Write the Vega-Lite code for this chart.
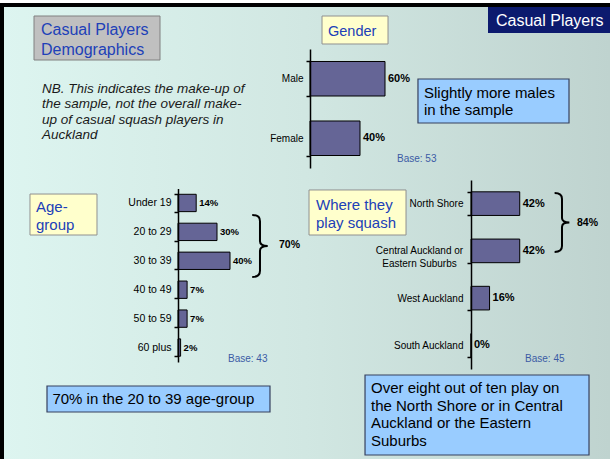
{
  "$schema": "https://vega.github.io/schema/vega-lite/v6.json",
  "width": 610,
  "height": 459,
  "autosize": {"type": "none"},
  "padding": 0,
  "background": "white",
  "config": {"view": {"stroke": null}},
  "resolve": {"scale": {"x": "independent", "y": "independent"}, "axis": {"x": "independent", "y": "independent"}},
  "layer": [
    {
      "data": {"values": [{"k": "slide"}]},
      "layer": [
        {
          "mark": {"type": "rect", "fill": {"gradient": "linear", "x1": 0, "y1": 0, "x2": 1, "y2": 0, "stops": [{"offset": 0, "color": "#ddf5f0"}, {"offset": 0.5, "color": "#d1e7e2"}, {"offset": 1, "color": "#bfd3cf"}]}},
          "encoding": {
            "x": {"datum": 0, "type": "quantitative", "scale": {"domain": [0, 100], "range": [0, 610]}, "axis": null},
            "x2": {"datum": 100},
            "y": {"datum": 1.525, "type": "quantitative", "scale": {"domain": [0, 100], "range": [0, 459]}, "axis": null},
            "y2": {"datum": 100}
          }
        },
        {
          "mark": {"type": "rect", "fill": "black"},
          "encoding": {
            "x": {"datum": 0, "type": "quantitative"},
            "x2": {"datum": 100},
            "y": {"datum": 0.654, "type": "quantitative"},
            "y2": {"datum": 1.525}
          }
        },
        {
          "mark": {"type": "rect", "fill": "black"},
          "encoding": {
            "x": {"datum": 0, "type": "quantitative"},
            "x2": {"datum": 0.656},
            "y": {"datum": 0.654, "type": "quantitative"},
            "y2": {"datum": 100}
          }
        }
      ]
    },
    {
      "data": {"values": [{"gender": "Male", "share": 0.60}, {"gender": "Female", "share": 0.40}]},
      "encoding": {
        "y": {"field": "gender", "type": "nominal", "scale": {"domain": ["Male", "Female"], "range": [49, 168], "paddingInner": 0.42, "paddingOuter": 0.21},
          "axis": {"title": null, "orient": "left", "offset": -310, "zindex": 2, "domainColor": "black", "domainWidth": 1.5, "tickColor": "black", "tickWidth": 1.5, "tickSize": 4, "tickBand": "extent", "labelFont": "Liberation Sans", "labelFontSize": 10, "labelColor": "black", "labelPadding": 3, "grid": false}},
        "x": {"field": "share", "type": "quantitative", "scale": {"domain": [0, 1], "range": [310, 435], "nice": false}, "axis": null}
      },
      "layer": [
        {"mark": {"type": "bar", "fill": "#656596", "stroke": "black", "strokeWidth": 1}},
        {"mark": {"type": "text", "align": "left", "baseline": "middle", "dx": 3, "font": "Liberation Sans", "fontWeight": "bold", "fontSize": 11, "color": "black"},
         "encoding": {"text": {"field": "share", "type": "quantitative", "format": ".0%"}}}
      ]
    },
    {
      "data": {"values": [
        {"age": "Under 19", "share": 0.14},
        {"age": "20 to 29", "share": 0.30},
        {"age": "30 to 39", "share": 0.40},
        {"age": "40 to 49", "share": 0.07},
        {"age": "50 to 59", "share": 0.07},
        {"age": "60 plus", "share": 0.02}
      ]},
      "encoding": {
        "y": {"field": "age", "type": "nominal", "scale": {"domain": ["Under 19", "20 to 29", "30 to 39", "40 to 49", "50 to 59", "60 plus"], "range": [188.5, 362], "paddingInner": 0.4, "paddingOuter": 0.2},
          "axis": {"title": null, "orient": "left", "offset": -178, "zindex": 2, "domainColor": "black", "domainWidth": 1.5, "tickColor": "black", "tickWidth": 1.5, "tickSize": 4, "tickBand": "extent", "labelFont": "Liberation Sans", "labelFontSize": 10.5, "labelColor": "black", "labelPadding": 3, "grid": false}},
        "x": {"field": "share", "type": "quantitative", "scale": {"domain": [0, 1], "range": [178, 308], "nice": false}, "axis": null}
      },
      "layer": [
        {"mark": {"type": "bar", "fill": "#656596", "stroke": "black", "strokeWidth": 1}},
        {"mark": {"type": "text", "align": "left", "baseline": "middle", "dx": 3, "font": "Liberation Sans", "fontWeight": "bold", "fontSize": 9.5, "color": "black"},
         "encoding": {"text": {"field": "share", "type": "quantitative", "format": ".0%"}}}
      ]
    },
    {
      "data": {"values": [
        {"area": "North Shore", "share": 0.42},
        {"area": "Central Auckland or Eastern Suburbs", "share": 0.42},
        {"area": "West Auckland", "share": 0.16},
        {"area": "South Auckland", "share": 0.00}
      ]},
      "encoding": {
        "y": {"field": "area", "type": "nominal", "scale": {"domain": ["North Shore", "Central Auckland or Eastern Suburbs", "West Auckland", "South Auckland"], "range": [180, 369], "paddingInner": 0.5, "paddingOuter": 0.25},
          "axis": {"title": null, "orient": "left", "offset": -471, "zindex": 2, "domainColor": "black", "domainWidth": 1.5, "tickColor": "black", "tickWidth": 1.5, "tickSize": 4, "tickBand": "extent", "labelFont": "Liberation Sans", "labelFontSize": 10, "labelColor": "black", "labelLineHeight": 13, "grid": false,
            "labelAlign": {"condition": {"test": "datum.value == 'Central Auckland or Eastern Suburbs'", "value": "center"}, "value": "right"},
            "labelPadding": {"condition": {"test": "datum.value == 'Central Auckland or Eastern Suburbs'", "value": 48}, "value": 4},
            "labelExpr": "datum.label == 'Central Auckland or Eastern Suburbs' ? ['Central Auckland or', 'Eastern Suburbs'] : datum.label"}},
        "x": {"field": "share", "type": "quantitative", "scale": {"domain": [0, 1], "range": [471, 587], "nice": false}, "axis": null}
      },
      "layer": [
        {"mark": {"type": "bar", "fill": "#656596", "stroke": "black", "strokeWidth": 1}},
        {"mark": {"type": "text", "align": "left", "baseline": "middle", "dx": 3, "font": "Liberation Sans", "fontWeight": "bold", "fontSize": 11, "color": "black"},
         "encoding": {"text": {"field": "share", "type": "quantitative", "format": ".0%"}}}
      ]
    },
    {
      "data": {"values": [{"k": "notes"}]},
      "layer": [
        {
          "mark": {"type": "rect", "fill": "#c0c0c0", "stroke": "#808080", "strokeWidth": 1},
          "encoding": {
            "x": {"datum": 5.574, "type": "quantitative", "scale": {"domain": [0, 100], "range": [0, 610]}, "axis": null},
            "x2": {"datum": 26.23},
            "y": {"datum": 3.486, "type": "quantitative", "scale": {"domain": [0, 100], "range": [0, 459]}, "axis": null},
            "y2": {"datum": 13.072}
          }
        },
        {
          "data": {"values": [{"t": "Casual Players\nDemographics"}]},
          "mark": {"type": "text", "align": "left", "baseline": "alphabetic", "lineBreak": "\n", "lineHeight": 20, "font": "Liberation Sans", "fontSize": 16, "color": "#2040b8"},
          "encoding": {"x": {"datum": 6.721, "type": "quantitative"}, "y": {"datum": 7.625, "type": "quantitative"}, "text": {"field": "t"}}
        },
        {
          "data": {"values": [{"t": "NB. This indicates the make-up of\nthe sample, not the overall make-\nup of casual squash players in\nAuckland"}]},
          "mark": {"type": "text", "align": "left", "baseline": "alphabetic", "lineBreak": "\n", "lineHeight": 15.3, "font": "Liberation Sans", "fontStyle": "italic", "fontSize": 13.5, "color": "#1a1a1a"},
          "encoding": {"x": {"datum": 6.885, "type": "quantitative"}, "y": {"datum": 20.26, "type": "quantitative"}, "text": {"field": "t"}}
        },
        {
          "mark": {"type": "rect", "fill": "#0c1a6e"},
          "encoding": {"x": {"datum": 80.0, "type": "quantitative"}, "x2": {"datum": 100}, "y": {"datum": 1.525, "type": "quantitative"}, "y2": {"datum": 7.19}}
        },
        {
          "data": {"values": [{"t": "Casual Players"}]},
          "mark": {"type": "text", "align": "left", "baseline": "alphabetic", "font": "Liberation Sans", "fontSize": 16, "color": "white"},
          "encoding": {"x": {"datum": 81.31, "type": "quantitative"}, "y": {"datum": 5.77, "type": "quantitative"}, "text": {"field": "t"}}
        },
        {
          "mark": {"type": "rect", "fill": "#ffffcc", "stroke": "#909090", "strokeWidth": 1},
          "encoding": {"x": {"datum": 52.79, "type": "quantitative"}, "x2": {"datum": 63.61}, "y": {"datum": 3.486, "type": "quantitative"}, "y2": {"datum": 9.586}}
        },
        {
          "data": {"values": [{"t": "Gender"}]},
          "mark": {"type": "text", "align": "left", "baseline": "alphabetic", "font": "Liberation Sans", "fontSize": 14.5, "color": "#2040b8"},
          "encoding": {"x": {"datum": 53.77, "type": "quantitative"}, "y": {"datum": 7.843, "type": "quantitative"}, "text": {"field": "t"}}
        },
        {
          "mark": {"type": "rect", "fill": "#99ccff", "stroke": "#36405e", "strokeWidth": 1.2},
          "encoding": {"x": {"datum": 68.52, "type": "quantitative"}, "x2": {"datum": 93.28}, "y": {"datum": 17.21, "type": "quantitative"}, "y2": {"datum": 26.80}}
        },
        {
          "data": {"values": [{"t": "Slightly more males\nin the sample"}]},
          "mark": {"type": "text", "align": "left", "baseline": "alphabetic", "lineBreak": "\n", "lineHeight": 17, "font": "Liberation Sans", "fontSize": 15, "color": "black"},
          "encoding": {"x": {"datum": 69.51, "type": "quantitative"}, "y": {"datum": 21.35, "type": "quantitative"}, "text": {"field": "t"}}
        },
        {
          "data": {"values": [{"t": "Base: 53"}]},
          "mark": {"type": "text", "align": "left", "baseline": "alphabetic", "font": "Liberation Sans", "fontSize": 10, "color": "#3b5ba5"},
          "encoding": {"x": {"datum": 65.08, "type": "quantitative"}, "y": {"datum": 35.29, "type": "quantitative"}, "text": {"field": "t"}}
        },
        {
          "mark": {"type": "rect", "fill": "#ffffcc", "stroke": "#909090", "strokeWidth": 1},
          "encoding": {"x": {"datum": 4.918, "type": "quantitative"}, "x2": {"datum": 15.90}, "y": {"datum": 42.27, "type": "quantitative"}, "y2": {"datum": 51.20}}
        },
        {
          "data": {"values": [{"t": "Age-\ngroup"}]},
          "mark": {"type": "text", "align": "left", "baseline": "alphabetic", "lineBreak": "\n", "lineHeight": 18, "font": "Liberation Sans", "fontSize": 15, "color": "#2040b8"},
          "encoding": {"x": {"datum": 5.902, "type": "quantitative"}, "y": {"datum": 46.19, "type": "quantitative"}, "text": {"field": "t"}}
        },
        {
          "mark": {"type": "rect", "fill": "#ffffcc", "stroke": "#909090", "strokeWidth": 1},
          "encoding": {"x": {"datum": 50.66, "type": "quantitative"}, "x2": {"datum": 66.56}, "y": {"datum": 41.39, "type": "quantitative"}, "y2": {"datum": 51.20}}
        },
        {
          "data": {"values": [{"t": "Where they\nplay squash"}]},
          "mark": {"type": "text", "align": "left", "baseline": "alphabetic", "lineBreak": "\n", "lineHeight": 18, "font": "Liberation Sans", "fontSize": 15, "color": "#2040b8"},
          "encoding": {"x": {"datum": 51.80, "type": "quantitative"}, "y": {"datum": 45.75, "type": "quantitative"}, "text": {"field": "t"}}
        },
        {
          "data": {"values": [{"t": "Base: 43"}]},
          "mark": {"type": "text", "align": "left", "baseline": "alphabetic", "font": "Liberation Sans", "fontSize": 10, "color": "#3b5ba5"},
          "encoding": {"x": {"datum": 37.38, "type": "quantitative"}, "y": {"datum": 78.87, "type": "quantitative"}, "text": {"field": "t"}}
        },
        {
          "data": {"values": [{"t": "Base: 45"}]},
          "mark": {"type": "text", "align": "left", "baseline": "alphabetic", "font": "Liberation Sans", "fontSize": 10, "color": "#3b5ba5"},
          "encoding": {"x": {"datum": 86.07, "type": "quantitative"}, "y": {"datum": 78.87, "type": "quantitative"}, "text": {"field": "t"}}
        },
        {
          "mark": {"type": "point", "shape": "M-0.25,-1 Q0,-1 0,-0.8 L0,-0.15 Q0,0 0.25,0 Q0,0 0,0.15 L0,0.8 Q0,1 -0.25,1", "filled": false, "fill": null, "stroke": "black", "strokeWidth": 2, "opacity": 1, "size": 3844},
          "encoding": {"x": {"datum": 42.62, "type": "quantitative"}, "y": {"datum": 53.59, "type": "quantitative"}}
        },
        {
          "data": {"values": [{"t": "70%"}]},
          "mark": {"type": "text", "align": "left", "baseline": "middle", "font": "Liberation Sans", "fontWeight": "bold", "fontSize": 10.5, "color": "black"},
          "encoding": {"x": {"datum": 45.74, "type": "quantitative"}, "y": {"datum": 53.38, "type": "quantitative"}, "text": {"field": "t"}}
        },
        {
          "mark": {"type": "point", "shape": "M-0.25,-1 Q0,-1 0,-0.8 L0,-0.15 Q0,0 0.25,0 Q0,0 0,0.15 L0,0.8 Q0,1 -0.25,1", "filled": false, "fill": null, "stroke": "black", "strokeWidth": 2, "opacity": 1, "size": 3481},
          "encoding": {"x": {"datum": 92.13, "type": "quantitative"}, "y": {"datum": 48.47, "type": "quantitative"}}
        },
        {
          "data": {"values": [{"t": "84%"}]},
          "mark": {"type": "text", "align": "left", "baseline": "middle", "font": "Liberation Sans", "fontWeight": "bold", "fontSize": 10.5, "color": "black"},
          "encoding": {"x": {"datum": 94.59, "type": "quantitative"}, "y": {"datum": 48.58, "type": "quantitative"}, "text": {"field": "t"}}
        },
        {
          "mark": {"type": "rect", "fill": "#99ccff", "stroke": "#36405e", "strokeWidth": 1.2},
          "encoding": {"x": {"datum": 7.705, "type": "quantitative"}, "x2": {"datum": 44.26}, "y": {"datum": 84.10, "type": "quantitative"}, "y2": {"datum": 89.76}}
        },
        {
          "data": {"values": [{"t": "70% in the 20 to 39 age-group"}]},
          "mark": {"type": "text", "align": "left", "baseline": "alphabetic", "font": "Liberation Sans", "fontSize": 15, "color": "black"},
          "encoding": {"x": {"datum": 8.59, "type": "quantitative"}, "y": {"datum": 88.02, "type": "quantitative"}, "text": {"field": "t"}}
        },
        {
          "mark": {"type": "rect", "fill": "#99ccff", "stroke": "#36405e", "strokeWidth": 1.2},
          "encoding": {"x": {"datum": 59.84, "type": "quantitative"}, "x2": {"datum": 96.56}, "y": {"datum": 81.70, "type": "quantitative"}, "y2": {"datum": 99.13}}
        },
        {
          "data": {"values": [{"t": "Over eight out of ten play on\nthe North Shore or in Central\nAuckland or the Eastern\nSuburbs"}]},
          "mark": {"type": "text", "align": "left", "baseline": "alphabetic", "lineBreak": "\n", "lineHeight": 17.6, "font": "Liberation Sans", "fontSize": 15, "color": "black"},
          "encoding": {"x": {"datum": 60.82, "type": "quantitative"}, "y": {"datum": 85.62, "type": "quantitative"}, "text": {"field": "t"}}
        }
      ]
    }
  ]
}
